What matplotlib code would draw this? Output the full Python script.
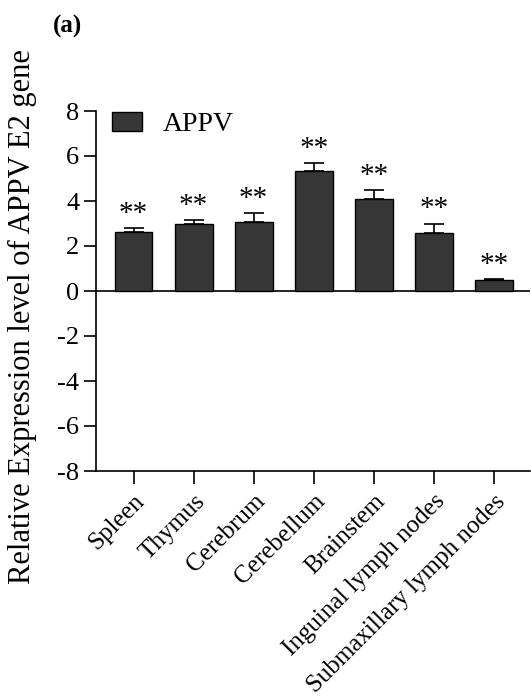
import matplotlib
matplotlib.use("Agg")
import matplotlib.pyplot as plt
import numpy as np

categories = ["Spleen", "Thymus", "Cerebrum", "Cerebellum", "Brainstem",
              "Inguinal lymph nodes", "Submaxillary lymph nodes"]
values = [2.61, 2.96, 3.08, 5.33, 4.10, 2.58, 0.49]
errors = [0.18, 0.20, 0.37, 0.36, 0.37, 0.42, 0.04]
yticks = [-8, -6, -4, -2, 0, 2, 4, 6, 8]

plt.rcParams['font.family'] = ['Liberation Serif', 'DejaVu Serif']

fig = plt.figure(figsize=(5.31, 6.97), dpi=100)
ax = fig.add_axes([96/531, 1-471/697, 434/531, 360/697])

x = np.arange(len(categories))
ax.bar(x, values, width=0.63, color="#363636", edgecolor="black", linewidth=1.0,
       label="APPV", zorder=2)
ax.errorbar(x, values, yerr=[np.zeros(len(values)), errors], fmt="none",
            ecolor="black", elinewidth=1.2, capsize=7, capthick=1.2, zorder=3)
for xi, v, e in zip(x, values, errors):
    ax.text(xi, v + e + 0.05, "**", ha="center", va="bottom", fontsize=21)

ax.axhline(0, color="black", linewidth=1.2, zorder=1)
ax.set_ylim(-8, 8)
ax.set_xlim(-0.625, 6.6)
ax.set_yticks(yticks)
ax.set_yticklabels([str(t) for t in yticks])
ax.set_xticks(x)
ax.set_xticklabels(categories, rotation=45, ha="right", rotation_mode="anchor")
ax.tick_params(axis="y", labelsize=19, direction="out", length=9, width=1.2, pad=3)
ax.tick_params(axis="x", labelsize=18, direction="out", length=9, width=1.2, pad=5)
for s in ["top", "right"]:
    ax.spines[s].set_visible(False)
for s in ["left", "bottom"]:
    ax.spines[s].set_linewidth(1.2)

fig.text(22/531, 1-317/697, "Relative Expression level of APPV E2 gene",
         fontsize=22, rotation=90, ha="center", va="center")

ax.legend(loc="upper left", fontsize=20, frameon=False, handlelength=1.08,
          handleheight=0.7, handletextpad=0.75, borderaxespad=0.0,
          bbox_to_anchor=(0.012, 1.029))

fig.text(53/531, 1-26/697, "(a)", fontsize=18, fontweight="bold", va="center", ha="left")

fig.savefig("out.png", dpi=100)
